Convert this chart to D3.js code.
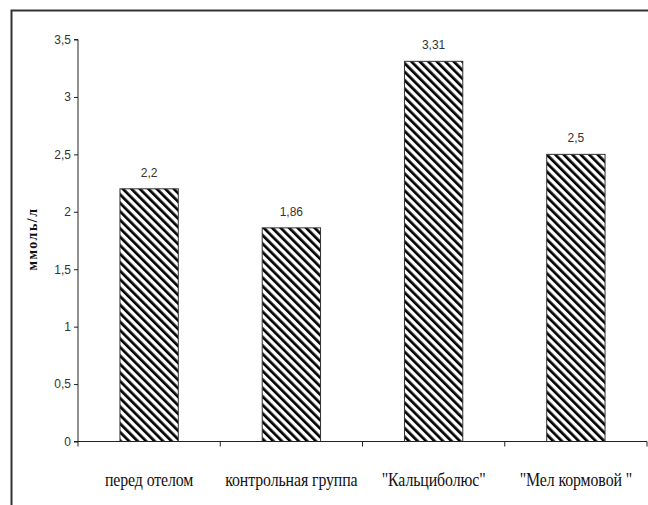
<!DOCTYPE html>
<html>
<head>
<meta charset="utf-8">
<script src="https://cdn.jsdelivr.net/npm/d3@7"></script>
<style>
  html, body { margin: 0; padding: 0; background: #fff; }
  svg { display: block; }
</style>
</head>
<body>
<svg id="chart" width="648" height="505"></svg>
<script>
const categories = ["перед отелом", "контрольная группа", "\"Кальциболюс\"", "\"Мел кормовой \""];
const values = [2.2, 1.86, 3.31, 2.5];
const valueLabels = ["2,2", "1,86", "3,31", "2,5"];
const yTicks = [0, 0.5, 1, 1.5, 2, 2.5, 3, 3.5];
const yTickLabels = ["0", "0,5", "1", "1,5", "2", "2,5", "3", "3,5"];
const yTitle = "ммоль/л";

const svg = d3.select("#chart");

// pattern
const defs = svg.append("defs");
const pat = defs.append("pattern")
  .attr("id", "hatch")
  .attr("patternUnits", "userSpaceOnUse")
  .attr("width", 6).attr("height", 10)
  .attr("patternTransform", "rotate(-45)");
pat.append("rect").attr("width", 6).attr("height", 10).attr("fill", "#fff");
pat.append("rect").attr("width", 2.7).attr("height", 10).attr("fill", "#000");

// outer frame
svg.append("path")
  .attr("d", "M11.5,510 V10.5 H660")
  .attr("fill", "none").attr("stroke", "#333").attr("stroke-width", 2);

const x0 = 78, x1 = 647, yBase = 441.5, yTop = 39.5;
const x = d3.scaleBand().domain(categories).range([x0, x1]).paddingInner(0).paddingOuter(0);
const y = d3.scaleLinear().domain([0, 3.5]).range([yBase, yTop]);

// bars
const barW = x.bandwidth() * 0.41;
svg.selectAll("rect.bar").data(values).enter().append("rect")
  .attr("class", "bar")
  .attr("x", (d, i) => x(categories[i]) + x.bandwidth() / 2 - barW / 2)
  .attr("y", d => y(d))
  .attr("width", barW)
  .attr("height", d => yBase - y(d))
  .attr("fill", "url(#hatch)")
  .attr("stroke", "#333").attr("stroke-width", 1);

// value labels
svg.selectAll("text.val").data(values).enter().append("text")
  .attr("class", "val")
  .attr("x", (d, i) => x(categories[i]) + x.bandwidth() / 2)
  .attr("y", d => y(d) - 12)
  .attr("text-anchor", "middle")
  .attr("font-family", "Liberation Sans, Arial, sans-serif")
  .attr("font-size", 12)
  .attr("fill", "#333")
  .text((d, i) => valueLabels[i]);

// y axis
const yAxis = d3.axisLeft(y).tickValues(yTicks).tickSize(4).tickPadding(3)
  .tickFormat((d, i) => yTickLabels[i]);
const gy = svg.append("g").attr("transform", `translate(${x0},0)`).call(yAxis);
gy.select(".domain").attr("stroke", "#222").attr("d", `M-4,${yTop}H0V${yBase}H-4`);
gy.selectAll(".tick line").attr("stroke", "#222");
gy.selectAll(".tick text")
  .attr("font-family", "Liberation Sans, Arial, sans-serif")
  .attr("font-size", 12).attr("fill", "#333");

// x axis
const xAxis = d3.axisBottom(x).tickSize(0).tickPadding(0);
const gx = svg.append("g").attr("transform", `translate(0,${yBase})`).call(xAxis);
gx.select(".domain").attr("stroke", "#222").attr("d", `M${x0},0H${x1}`);
gx.selectAll(".tick text").remove();
gx.selectAll(".tick line").remove();
// category separators
const seps = d3.range(categories.length + 1).map(i => x0 + i * x.step());
gx.selectAll("line.sep").data(seps).enter().append("line")
  .attr("class", "sep")
  .attr("x1", d => d).attr("x2", d => d)
  .attr("y1", 0).attr("y2", 5)
  .attr("stroke", "#222");

// category labels
svg.selectAll("text.cat").data(categories).enter().append("text")
  .attr("class", "cat")
  .attr("transform", d => `translate(${x(d) + x.bandwidth() / 2},486) scale(0.88,1)`)
  .attr("text-anchor", "middle")
  .attr("font-family", "Liberation Serif, Times New Roman, serif")
  .attr("font-size", 18)
  .attr("letter-spacing", -0.1)
  .attr("fill", "#111")
  .text(d => d);

// y title
svg.append("text")
  .attr("transform", "translate(37,239) rotate(-90)")
  .attr("text-anchor", "middle")
  .attr("font-family", "Liberation Serif, Times New Roman, serif")
  .attr("font-size", 14)
  .attr("font-weight", "bold")
  .attr("letter-spacing", 1.5)
  .attr("fill", "#111")
  .text(yTitle);
</script>
</body>
</html>
